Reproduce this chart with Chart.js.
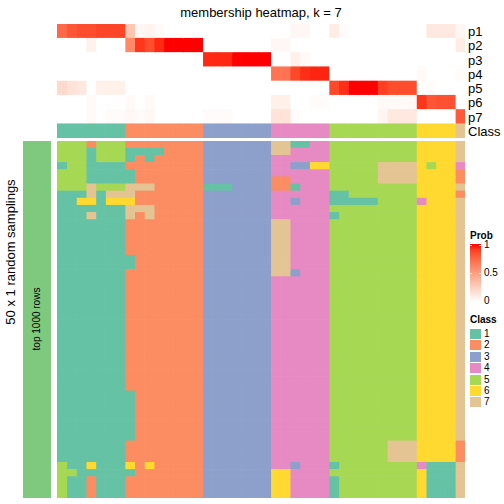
<!DOCTYPE html>
<html>
<head>
<meta charset="utf-8">
<title>membership heatmap, k = 7</title>
<script src="https://cdn.jsdelivr.net/npm/chart.js@4/dist/chart.umd.min.js"></script>
<style>
  body { margin: 0; background: #fff; }
  #page { position: relative; width: 504px; height: 504px; overflow: hidden; font-family: "Liberation Sans", Arial, sans-serif; color: #000; }
  .box { position: absolute; }
  .txt { position: absolute; white-space: nowrap; line-height: 1; }
</style>
</head>
<body>
<div id="page">
  <div class="box" style="left:57px;top:24px;width:408px;height:114px"><canvas id="topChart" width="408" height="114"></canvas></div>
  <div class="box" style="left:57px;top:141px;width:408px;height:357px"><canvas id="mainChart" width="408" height="357"></canvas></div>
  <div class="box" style="left:23px;top:141px;width:28px;height:357px;background:#7FC97F"></div>
</div>
<script>
// row names of the top heatmap
var probRows = ["p1", "p2", "p3", "p4", "p5", "p6", "p7"];
var classIds = ["1", "2", "3", "4", "5", "6", "7"];
var classColors = ["#66C2A5", "#FC8D62", "#8DA0CB", "#E78AC3", "#A6D854", "#FFD92F", "#E5C494"];

// class of each of the 42 samples (columns)
var sampleClass = [1,1,1,1,1,1,1, 2,2,2,2,2,2,2,2, 3,3,3,3,3,3,3, 4,4,4,4,4,4, 5,5,5,5,5,5,5,5,5, 6,6,6,6, 7];

// membership probabilities, one array per row
var p1 = [0.75,0.82,0.85,0.85,0.88,0.88,0.88, 0.3,0.04,0.06,0.03,0,0,0,0, 0,0,0,0,0,0,0, 0,0,0.04,0.04,0,0, 0.1,0.02,0,0,0,0,0,0,0, 0,0.12,0.12,0.12, 0.05];
var p2 = [0,0,0,0.07,0,0,0, 0.6,0.92,0.85,0.95,1,1,1,1, 0,0,0,0,0,0,0, 0.04,0.04,0,0,0,0, 0,0,0,0,0,0,0,0,0, 0,0,0,0, 0.1];
var p3 = [0,0,0,0,0,0,0, 0,0,0,0,0,0,0,0, 0.95,0.95,0.95,1,1,1,1, 0,0,0.08,0.03,0,0, 0,0,0,0,0,0,0,0,0, 0,0,0,0, 0];
var p4 = [0,0,0,0,0,0,0, 0,0,0,0,0,0,0,0, 0,0,0,0,0,0,0, 0.7,0.7,0.87,0.94,0.96,0.96, 0,0,0,0,0,0,0,0,0, 0.03,0,0,0, 0.02];
var p5 = [0.2,0.15,0.12,0,0.08,0.08,0.08, 0,0,0,0,0,0,0,0, 0,0,0,0,0,0,0, 0,0,0,0,0,0, 0.87,0.94,1,1,1,0.9,0.85,0.85,0.85, 0,0.02,0,0, 0];
var p6 = [0,0,0,0.03,0,0,0, 0.03,0,0.03,0,0,0,0,0, 0,0,0,0,0,0,0, 0.08,0.08,0,0,0.02,0.02, 0,0,0,0,0,0.03,0.03,0.03,0.03, 0.92,0.82,0.84,0.84, 0];
var p7 = [0,0,0,0.03,0,0.02,0.02, 0.04,0.02,0.04,0,0,0,0,0, 0.02,0.02,0.02,0,0,0,0, 0.15,0.15,0.02,0,0,0, 0,0,0,0,0,0.05,0.12,0.12,0.12, 0,0,0,0, 0.8];
var probValues = [p1, p2, p3, p4, p5, p6, p7];

// class called in each of the 50 random samplings (one string per sampling, one digit per sample)
var samplings = [
  "555255522222222333333377114455555555566667",
  "555155511112222333333377444455555555566667",
  "555155512122222333333344444455555555566667",
  "155111122222222333333344336655555777765664",
  "555111112222222333333344444455555777766662",
  "555111112222222333333322444455555777766662",
  "555755577722222111333322144455555555566667",
  "111717772222222333333344444411555555566662",
  "116616662222222333333344344411111555546667",
  "111111177722222333333344444455555555566667",
  "111711172722222333333344444415555555566667",
  "111111122222222333333377444455555555566667",
  "111111122222222333333377444455555555566667",
  "111111122222222333333377444455555555566667",
  "111111122222222333333377444455555555566667",
  "111111122222222333333377444455555555566667",
  "111111112222222333333377444455555555566667",
  "111111112222222333333377444455555555566667",
  "111111122222222333333377344455555555566667",
  "111111122222222333333344444455555555566667",
  "111111122222222333333344444455555555566667",
  "111111122222222333333344444455555555566667",
  "111111122222222333333344444455555555566667",
  "111111122222222333333344444455555555566667",
  "111111122222222333333344444455555555566667",
  "111111122222222333333344444455555555566667",
  "111111122222222333333344444455555555566667",
  "111111122222222333333344444455555555566667",
  "111111122222222333333344444455555555566667",
  "111111122222222333333344444455555555566667",
  "111111122222222333333344444455555555566667",
  "111111122222222333333344444455555555566667",
  "111111122222222333333344444455555555566667",
  "111111122222222333333344444455555555566667",
  "111111122222222333333344444455555555566667",
  "111111112222222333333344444455555555566667",
  "111111112222222333333344444455555555566667",
  "111111112222222333333344444455555555566667",
  "111111112222222333333344444455555555566667",
  "111111112222222333333344444455555555566667",
  "111111112222222333333344444455555555566667",
  "111111112222222333333344444455555555566667",
  "111111122222222333333344444455555577766662",
  "111111122222222333333344444455555577766662",
  "111111122222222333333344444455555577766662",
  "511611162622222333333344344415555555541117",
  "551111112222222333333366444455555555561117",
  "511211122222222333333366444415555555561117",
  "511211122222222333333366444415555555561117",
  "511211122222222333333366444415555555561117"
];

var legendBreaks = [0, 0.5, 1];

// white -> red ramp interpolated in Lab space
function toLin(c) { c /= 255; return c <= 0.04045 ? c / 12.92 : Math.pow((c + 0.055) / 1.055, 2.4); }
function toSrgb(c) {
  c = Math.max(0, Math.min(1, c));
  return Math.round(255 * (c <= 0.0031308 ? 12.92 * c : 1.055 * Math.pow(c, 1 / 2.4) - 0.055));
}
function rgbToLab(rgb) {
  var r = toLin(rgb[0]), g = toLin(rgb[1]), b = toLin(rgb[2]);
  var x = (0.4124 * r + 0.3576 * g + 0.1805 * b) / 0.95047;
  var y = (0.2126 * r + 0.7152 * g + 0.0722 * b);
  var z = (0.0193 * r + 0.1192 * g + 0.9505 * b) / 1.08883;
  var f = function(t) { return t > 0.008856 ? Math.cbrt(t) : 7.787 * t + 16 / 116; };
  var fx = f(x), fy = f(y), fz = f(z);
  return [116 * fy - 16, 500 * (fx - fy), 200 * (fy - fz)];
}
function labToRgb(lab) {
  var fy = (lab[0] + 16) / 116, fx = fy + lab[1] / 500, fz = fy - lab[2] / 200;
  var inv = function(t) { return t > 0.206893 ? t * t * t : (t - 16 / 116) / 7.787; };
  var x = inv(fx) * 0.95047, y = inv(fy), z = inv(fz) * 1.08883;
  var r = 3.2406 * x - 1.5372 * y - 0.4986 * z;
  var g = -0.9689 * x + 1.8758 * y + 0.0415 * z;
  var b = 0.0557 * x - 0.2040 * y + 1.0570 * z;
  return "rgb(" + toSrgb(r) + "," + toSrgb(g) + "," + toSrgb(b) + ")";
}
var labLow = rgbToLab([255, 255, 255]), labHigh = rgbToLab([255, 0, 0]);
function probColor(t) {
  return labToRgb([0, 1, 2].map(function(i) { return labLow[i] + (labHigh[i] - labLow[i]) * t; }));
}

function heatOptions(nCols) {
  return {
    indexAxis: "y",
    responsive: false,
    animation: false,
    events: [],
    layout: { padding: 0 },
    plugins: { legend: { display: false }, tooltip: { enabled: false }, title: { display: false } },
    scales: {
      x: { stacked: true, display: false, min: 0, max: nCols },
      y: { stacked: true, display: false }
    }
  };
}

// top heatmap: p1..p7 plus the Class annotation row
var topLabels = probRows.concat(["Class"]);
var topSets = sampleClass.map(function(cls, j) {
  var cols = probValues.map(function(row) { return probColor(row[j]); });
  cols.push(classColors[cls - 1]);
  return {
    data: topLabels.map(function() { return 1; }),
    backgroundColor: cols,
    borderWidth: 0,
    barPercentage: 1,
    categoryPercentage: 1
  };
});
new Chart(document.getElementById("topChart"), {
  type: "bar",
  data: { labels: topLabels, datasets: topSets },
  options: heatOptions(sampleClass.length)
});

// main heatmap: class of each sample in each sampling
var mainLabels = samplings.map(function(s, i) { return "s" + (i + 1); });
var mainSets = sampleClass.map(function(cls, j) {
  return {
    data: samplings.map(function() { return 1; }),
    backgroundColor: samplings.map(function(s) { return classColors[+s[j] - 1]; }),
    borderWidth: 0,
    barPercentage: 1,
    categoryPercentage: 1
  };
});
new Chart(document.getElementById("mainChart"), {
  type: "bar",
  data: { labels: mainLabels, datasets: mainSets },
  options: heatOptions(sampleClass.length)
});

// texts and legends
var page = document.getElementById("page");
function addText(txt, x, y, css, anchor) {
  var d = document.createElement("div");
  d.className = "txt";
  d.textContent = txt;
  d.style.left = x + "px";
  d.style.top = y + "px";
  d.style.transform = anchor || "translate(0,-50%)";
  if (css) d.style.cssText += css;
  page.appendChild(d);
  return d;
}
function addBox(x, y, w, h, bg) {
  var d = document.createElement("div");
  d.className = "box";
  d.style.cssText = "left:" + x + "px;top:" + y + "px;width:" + w + "px;height:" + h + "px;background:" + bg;
  page.appendChild(d);
  return d;
}

addText("membership heatmap, k = 7", 261, 12, "font-size:13px", "translate(-50%,-50%)");
topLabels.forEach(function(lab, i) {
  addText(lab, 468, 24 + 114 / 8 * (i + 0.5), "font-size:13px");
});
addText("50 x 1 random samplings", 10, 252, "font-size:13px", "translate(-50%,-50%) rotate(-90deg)");
addText("top 1000 rows", 37, 319, "font-size:10px", "translate(-50%,-50%) rotate(-90deg)");

// Prob legend
addText("Prob", 470, 236, "font-size:10px;font-weight:bold");
var stops = [];
for (var k = 0; k <= 10; k++) stops.push(probColor(k / 10) + " " + (k * 10) + "%");
addBox(470, 244, 11, 58, "linear-gradient(to top," + stops.join(",") + ")");
legendBreaks.forEach(function(v) {
  var y = 301 - v * 56;
  addBox(470, y, 2, 1, "#fff");
  addBox(479, y, 2, 1, "#fff");
  addText(String(v), 484, y, "font-size:10px");
});

// Class legend
addText("Class", 470, 320, "font-size:10px;font-weight:bold");
classIds.forEach(function(id, i) {
  var y = 329 + i * 11.4;
  addBox(470, y, 11, 10, classColors[i]);
  addText(id, 484, y + 5, "font-size:10px");
});
</script>
</body>
</html>
